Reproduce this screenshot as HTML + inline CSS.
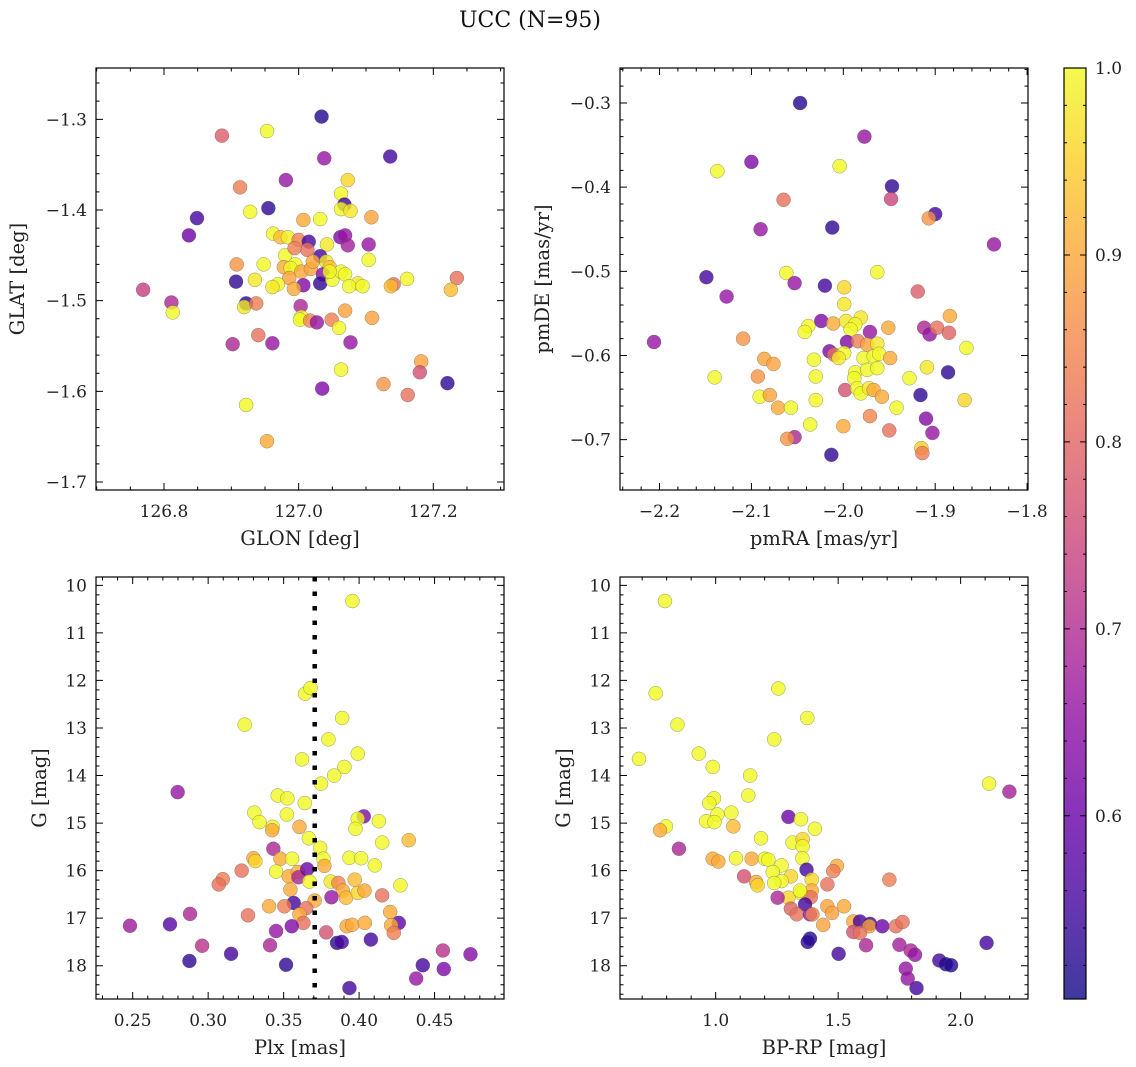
<!DOCTYPE html>
<html><head><meta charset="utf-8"><style>
body{margin:0;background:#fff}
svg{display:block;font-family:"DejaVu Serif","Liberation Serif",serif}
</style></head><body>
<svg id="fig" width="1136" height="1067" viewBox="0 0 1136 1067">
<text x="530" y="27" text-anchor="middle" font-size="22" fill="#111">UCC (N=95)</text>
</svg>
<script>
// ---- data ----
const p1Glon=[127.034,126.886,126.953,127.038,127.136,126.981,127.073,126.913,127.063,127.068,127.063,127.077,126.955,126.928,126.849,127.007,127.032,127.108,126.837,126.962,126.973,126.984,127.000,127.015,127.013,127.042,127.062,127.069,127.073,127.104,126.980,127.032,127.041,126.995,126.978,126.988,127.004,127.018,127.046,127.036,127.104,126.908,126.948,126.907,126.935,126.986,127.007,127.032,127.050,127.063,127.069,127.088,127.075,127.095,126.969,126.961,126.993,127.141,127.137,127.161,127.235,127.226,126.769,126.811,126.813,126.922,126.919,126.937,127.003,127.069,127.109,127.004,127.002,127.017,127.027,127.049,127.060,126.940,126.902,126.961,127.077,127.182,127.180,127.221,127.126,127.162,127.063,127.035,126.922,126.953,127.021,127.046,126.994];
const p1Glat=[-1.297,-1.318,-1.313,-1.343,-1.341,-1.367,-1.367,-1.375,-1.382,-1.394,-1.399,-1.401,-1.398,-1.402,-1.409,-1.411,-1.410,-1.408,-1.428,-1.426,-1.430,-1.430,-1.433,-1.435,-1.444,-1.438,-1.430,-1.428,-1.439,-1.438,-1.450,-1.451,-1.457,-1.460,-1.463,-1.464,-1.468,-1.465,-1.463,-1.471,-1.455,-1.460,-1.460,-1.479,-1.477,-1.475,-1.483,-1.481,-1.477,-1.468,-1.471,-1.481,-1.484,-1.484,-1.482,-1.485,-1.487,-1.482,-1.484,-1.476,-1.475,-1.488,-1.488,-1.502,-1.513,-1.503,-1.507,-1.503,-1.506,-1.511,-1.519,-1.518,-1.521,-1.522,-1.524,-1.521,-1.530,-1.538,-1.548,-1.547,-1.546,-1.567,-1.579,-1.591,-1.592,-1.604,-1.576,-1.597,-1.615,-1.655,-1.457,-1.468,-1.442];
const p1Prob=[.52,.77,.97,.65,.55,.65,.93,.82,.97,.55,.97,.95,.53,.97,.55,.88,.97,.87,.6,.97,.9,.96,.82,.55,.8,.95,.62,.65,.67,.65,.97,.55,.95,.97,.88,.97,.88,.87,.9,.63,.97,.85,.97,.53,.95,.87,.62,.53,.97,.97,.97,.95,.97,.97,.97,.95,.88,.8,.9,.97,.8,.9,.72,.68,.97,.53,.95,.82,.68,.87,.87,.97,.97,.83,.65,.82,.97,.8,.68,.65,.65,.87,.75,.53,.85,.8,.97,.62,.97,.88,.88,.97,.82];

const p2Pmra=[-2.047,-1.977,-2.100,-2.137,-2.004,-1.947,-1.948,-1.900,-1.907,-2.065,-2.090,-2.012,-1.836,-2.149,-2.062,-1.963,-2.053,-2.020,-1.999,-2.127,-1.919,-1.999,-2.206,-2.109,-2.038,-2.042,-2.024,-2.011,-1.997,-1.981,-1.987,-1.992,-1.971,-1.951,-1.884,-1.912,-1.906,-1.898,-1.885,-1.866,-1.996,-1.984,-1.974,-1.963,-2.015,-2.010,-1.999,-2.005,-1.978,-1.967,-1.961,-1.949,-2.032,-2.086,-2.076,-2.093,-2.140,-2.030,-1.987,-1.988,-1.974,-1.963,-1.928,-1.909,-1.886,-2.091,-2.080,-2.071,-2.057,-2.030,-1.998,-1.985,-1.981,-1.972,-1.967,-1.958,-1.942,-1.916,-1.868,-2.036,-1.971,-2.000,-1.950,-1.910,-1.903,-2.053,-2.061,-1.915,-1.914,-2.013];
const p2Pmde=[-0.300,-0.340,-0.370,-0.381,-0.375,-0.399,-0.414,-0.432,-0.437,-0.415,-0.450,-0.448,-0.468,-0.507,-0.502,-0.501,-0.514,-0.517,-0.519,-0.530,-0.524,-0.539,-0.584,-0.580,-0.565,-0.572,-0.559,-0.562,-0.559,-0.555,-0.563,-0.569,-0.572,-0.567,-0.553,-0.567,-0.575,-0.567,-0.573,-0.591,-0.584,-0.583,-0.587,-0.586,-0.595,-0.599,-0.597,-0.603,-0.603,-0.601,-0.598,-0.603,-0.605,-0.604,-0.610,-0.625,-0.626,-0.625,-0.620,-0.627,-0.617,-0.615,-0.627,-0.614,-0.620,-0.649,-0.647,-0.662,-0.662,-0.653,-0.641,-0.639,-0.645,-0.639,-0.641,-0.649,-0.662,-0.647,-0.653,-0.682,-0.672,-0.684,-0.689,-0.675,-0.692,-0.697,-0.699,-0.710,-0.716,-0.718];
const p2Prob=[.52,.65,.62,.97,.97,.53,.73,.55,.85,.8,.65,.53,.65,.55,.97,.97,.65,.55,.93,.65,.77,.95,.65,.85,.97,.97,.62,.88,.95,.95,.97,.97,.65,.88,.88,.68,.65,.8,.78,.97,.62,.82,.87,.95,.62,.8,.97,.95,.97,.97,.97,.88,.97,.87,.87,.85,.97,.97,.97,.97,.97,.97,.97,.95,.53,.97,.87,.88,.97,.97,.75,.97,.97,.95,.88,.88,.97,.53,.93,.97,.83,.88,.8,.63,.65,.68,.85,.92,.82,.53];

const p3Plx=[.3956,.3642,.3678,.3242,.3888,.3797,.3991,.3622,.3903,.3835,.3748,.2798,.3461,.3525,.3640,.3306,.3521,.3340,.3428,.3424,.3605,.3667,.4031,.3991,.3976,.4131,.4153,.4329,.3742,.3432,.3300,.3313,.3479,.3556,.3764,.3770,.3936,.4013,.4104,.3222,.3097,.3070,.3450,.3534,.3594,.3598,.3656,.3671,.3812,.3863,.3971,.4274,.3545,.3892,.3914,.3991,.4036,.4153,.3817,.3706,.3567,.3649,.3505,.3404,.3605,.3631,.3264,.2880,.4206,.4263,.4212,.4230,.3918,.3954,.4038,.3782,.3450,.3554,.2482,.2747,.2960,.3152,.3410,.3854,.3885,.4078,.2876,.3516,.3936,.4378,.4422,.4555,.4561,.4738];
const p3G=[10.33,12.28,12.16,12.93,12.79,13.24,13.54,13.66,13.82,14.00,14.17,14.35,14.42,14.48,14.58,14.78,14.82,14.98,15.08,15.15,15.08,15.32,14.86,14.91,15.12,14.96,15.41,15.36,15.52,15.54,15.74,15.80,15.75,15.75,15.75,15.90,15.73,15.74,15.89,16.00,16.18,16.29,16.02,16.12,16.03,16.14,15.97,16.23,16.23,16.26,16.19,16.31,16.40,16.42,16.57,16.47,16.42,16.52,16.56,16.63,16.68,16.79,16.75,16.75,16.92,17.10,16.94,16.91,16.87,17.10,17.15,17.31,17.17,17.14,17.10,17.30,17.27,17.17,17.16,17.13,17.58,17.75,17.57,17.52,17.50,17.45,17.90,17.98,18.47,18.27,17.99,17.68,18.07,17.76];
const p3Prob=[.97,.97,.97,.97,.97,.97,.97,.97,.97,.97,.97,.65,.97,.97,.97,.97,.97,.97,.97,.88,.88,.97,.62,.97,.97,.97,.97,.9,.97,.68,.88,.93,.88,.97,.97,.88,.97,.97,.97,.8,.82,.8,.97,.88,.88,.68,.6,.97,.95,.83,.9,.97,.88,.88,.9,.93,.88,.8,.65,.88,.55,.8,.82,.88,.88,.8,.8,.68,.88,.58,.88,.82,.88,.88,.88,.75,.65,.62,.66,.57,.7,.55,.68,.53,.55,.55,.53,.53,.55,.65,.55,.7,.62,.63];
const plxCut=[0.3706];

const p4Bprp=[.793,.755,1.256,1.374,.844,1.239,.931,.687,.988,1.141,2.116,2.199,1.133,.993,.974,1.064,1.007,1.297,1.348,.961,.995,.797,.773,1.072,1.405,1.185,.850,1.314,1.355,1.355,.988,1.011,1.083,1.147,1.201,1.215,1.354,1.269,1.371,1.495,1.480,1.709,1.116,1.233,1.307,1.392,1.456,1.165,1.171,1.269,1.239,1.392,1.347,1.297,1.253,1.388,1.365,1.307,1.331,1.385,1.395,1.456,1.475,1.524,1.439,1.562,1.589,1.630,1.627,1.562,1.589,1.680,1.736,1.763,1.614,1.750,1.796,1.814,1.385,1.376,1.502,1.913,1.940,1.961,2.106,1.776,1.784,1.820,1.344];
const p4G=[10.33,12.27,12.17,12.79,12.93,13.24,13.54,13.65,13.82,14.00,14.17,14.34,14.42,14.48,14.58,14.78,14.82,14.87,14.92,14.96,14.98,15.07,15.15,15.07,15.12,15.32,15.54,15.41,15.34,15.49,15.75,15.81,15.74,15.75,15.75,15.77,15.74,15.89,15.98,15.90,16.01,16.19,16.12,16.03,16.12,16.19,16.29,16.24,16.31,16.22,16.26,16.42,16.47,16.57,16.57,16.56,16.71,16.80,16.92,16.92,16.92,16.75,16.89,16.75,17.14,17.07,17.07,17.12,17.17,17.29,17.31,17.17,17.17,17.08,17.57,17.56,17.68,17.77,17.43,17.50,17.75,17.89,17.97,17.99,17.52,18.06,18.27,18.47,16.42];
const p4Prob=[.97,.97,.97,.97,.97,.97,.97,.97,.97,.97,.97,.67,.97,.97,.97,.97,.97,.6,.97,.97,.97,.97,.88,.9,.97,.97,.68,.97,.93,.97,.88,.88,.97,.88,.97,.97,.97,.97,.55,.88,.82,.82,.75,.97,.93,.93,.8,.88,.93,.97,.97,.88,.97,.93,.68,.8,.55,.78,.8,.65,.83,.87,.87,.88,.87,.88,.55,.55,.87,.75,.8,.6,.8,.8,.68,.67,.68,.65,.52,.53,.55,.55,.52,.52,.55,.65,.65,.55,.97];

const p1XTicks=[126.8,127.0,127.2], p1XLabels=["126.8","127.0","127.2"];
const p1YTicks=[-1.3,-1.4,-1.5,-1.6,-1.7], p1YLabels=["−1.3","−1.4","−1.5","−1.6","−1.7"];
const p2XTicks=[-2.2,-2.1,-2.0,-1.9,-1.8], p2XLabels=["−2.2","−2.1","−2.0","−1.9","−1.8"];
const p2YTicks=[-0.3,-0.4,-0.5,-0.6,-0.7], p2YLabels=["−0.3","−0.4","−0.5","−0.6","−0.7"];
const p3XTicks=[0.25,0.30,0.35,0.40,0.45], p3XLabels=["0.25","0.30","0.35","0.40","0.45"];
const gTicks=[10,11,12,13,14,15,16,17,18], gLabels=["10","11","12","13","14","15","16","17","18"];
const p4XTicks=[1.0,1.5,2.0], p4XLabels=["1.0","1.5","2.0"];
const cbTicks=[0.6,0.7,0.8,0.9,1.0], cbLabels=["0.6","0.7","0.8","0.9","1.0"];
const cbRange=[0.502,1.0];
const pointRange=[0.502,0.97];

// ---- helpers ----
const NS="http://www.w3.org/2000/svg";
const svg=document.getElementById('fig');
function mk(tag,attrs,parent){const e=document.createElementNS(NS,tag);for(const k in attrs)e.setAttribute(k,attrs[k]);(parent||svg).appendChild(e);return e;}
const stops=["#0d0887","#41049d","#6a00a8","#8f0da4","#b12a90","#cc4778","#e16462","#f2844b","#fca636","#fcce25","#f0f921"];
function hex(h){return [parseInt(h.substr(1,2),16),parseInt(h.substr(3,2),16),parseInt(h.substr(5,2),16)];}
function plasma(t){t=Math.max(0,Math.min(1,t));const f=t*10,i=Math.min(9,Math.floor(f)),r=f-i;const a=hex(stops[i]),b=hex(stops[i+1]);return "rgb("+a.map((v,k)=>Math.round(v+(b[k]-v)*r)).join(",")+")";}
function cnorm(v){return (v-pointRange[0])/(pointRange[1]-pointRange[0]);}
function lin(d0,d1,r0,r1){return v=>r0+(v-d0)/(d1-d0)*(r1-r0);}
const FS=17, AFS=19.5;

function panel(cfg){
  const g=mk('g',{});
  
  
  const X=lin(cfg.xr[0],cfg.xr[1],cfg.x,cfg.x+cfg.w);
  const Y=lin(cfg.yr[0],cfg.yr[1],cfg.y,cfg.y+cfg.h);
  const L=cfg.x,R=cfg.x+cfg.w,T=cfg.y,B=cfg.y+cfg.h;
  const pg=mk('g',{},g);
  
  
  for(let i=0;i<cfg.xs.length;i++){
    const c=mk('circle',{cx:X(cfg.xs[i]),cy:Y(cfg.ys[i]),r:7,fill:plasma(cnorm(cfg.cs[i]===undefined?0.9:cfg.cs[i])),'fill-opacity':0.8,stroke:'#555','stroke-opacity':0.6,'stroke-width':0.5},pg);
    
    
  }
  if(cfg.vline){
    const vl=mk('line',{x1:X(cfg.vline[0]),x2:X(cfg.vline[0]),y1:T,y2:B,stroke:'#000','stroke-width':4.5,'stroke-dasharray':'4.5 10'},g);
    
    
  }
  const fr=mk('rect',{x:L,y:T,width:cfg.w,height:cfg.h,fill:'none',stroke:'#000','stroke-width':1.2},g);
  
  
  let d='';
  const near=(v,arr,s)=>arr.some(a=>Math.abs(a-v)<s*0.3);
  cfg.xt.forEach(v=>{const px=X(v);if(px<L-0.5||px>R+0.5)return;d+=`M${px},${B}v-7M${px},${T}v7`;});
  cfg.yt.forEach(v=>{const py=Y(v);if(py<T-0.5||py>B+0.5)return;d+=`M${L},${py}h7M${R},${py}h-7`;});
  const xlo=Math.min(...cfg.xr),xhi=Math.max(...cfg.xr);
  for(let k=Math.ceil(xlo/cfg.xm);k<=Math.floor(xhi/cfg.xm);k++){const v=k*cfg.xm;if(near(v,cfg.xt,cfg.xm))continue;const px=X(v);d+=`M${px},${B}v-3.5M${px},${T}v3.5`;}
  const ylo=Math.min(...cfg.yr),yhi=Math.max(...cfg.yr);
  for(let k=Math.ceil(ylo/cfg.ym);k<=Math.floor(yhi/cfg.ym);k++){const v=k*cfg.ym;if(near(v,cfg.yt,cfg.ym))continue;const py=Y(v);d+=`M${L},${py}h3.5M${R},${py}h-3.5`;}
  mk('path',{d:d,stroke:'#000','stroke-width':1,fill:'none'},g);
  cfg.xt.forEach((v,i)=>{const t=mk('text',{x:X(v),y:B+27,'text-anchor':'middle','font-size':FS,fill:'#222'},g);t.textContent=cfg.xl[i];
    
    });
  cfg.yt.forEach((v,i)=>{const t=mk('text',{x:L-9,y:Y(v)+6,'text-anchor':'end','font-size':FS,fill:'#222'},g);t.textContent=cfg.yl[i];
    
    });
  const xt=mk('text',{x:L+cfg.w/2,y:B+55,'text-anchor':'middle','font-size':AFS,fill:'#222'},g);xt.textContent=cfg.xlab;
  
  
  const yx=cfg.ylx, yy=T+cfg.h/2;
  const yt=mk('text',{x:yx,y:yy,'text-anchor':'middle','font-size':AFS,fill:'#222',transform:`rotate(-90 ${yx} ${yy})`},g);yt.textContent=cfg.ylab;
  
  
}

panel({name:'glon-glat-panel',x:96,y:68,w:408,h:422,xr:[126.699,127.305],yr:[-1.2434,-1.7088],xs:p1Glon,ys:p1Glat,cs:p1Prob,xt:p1XTicks,xl:p1XLabels,yt:p1YTicks,yl:p1YLabels,xm:0.05,ym:0.02,xlab:'GLON [deg]',ylab:'GLAT [deg]',ylx:24});
panel({name:'pm-panel',x:620,y:68,w:408,h:422,xr:[-2.243,-1.799],yr:[-0.2584,-0.7598],xs:p2Pmra,ys:p2Pmde,cs:p2Prob,xt:p2XTicks,xl:p2XLabels,yt:p2YTicks,yl:p2YLabels,xm:0.02,ym:0.02,xlab:'pmRA [mas/yr]',ylab:'pmDE [mas/yr]',ylx:549});
panel({name:'plx-g-panel',x:96,y:577,w:408,h:422,xr:[0.2257,0.496],yr:[9.825,18.70],xs:p3Plx,ys:p3G,cs:p3Prob,xt:p3XTicks,xl:p3XLabels,yt:gTicks,yl:gLabels,xm:0.01,ym:0.2,xlab:'Plx [mas]',ylab:'G [mag]',ylx:46,vline:plxCut});
panel({name:'cmd-panel',x:620,y:577,w:408,h:422,xr:[0.6095,2.275],yr:[9.825,18.70],xs:p4Bprp,ys:p4G,cs:p4Prob,xt:p4XTicks,xl:p4XLabels,yt:gTicks,yl:gLabels,xm:0.1,ym:0.2,xlab:'BP-RP [mag]',ylab:'G [mag]',ylx:570});

// colorbar
(function(){
  const cx=1064,cy=68,cw=22,ch=931;
  const g=mk('g',{});
  
  
  const defs=mk('defs',{},g);
  const lg=mk('linearGradient',{id:'cbg',x1:0,y1:1,x2:0,y2:0},defs);
  for(let i=0;i<=20;i++){mk('stop',{offset:(i/20),'stop-color':plasma(i/20),'stop-opacity':0.8},lg);}
  mk('rect',{x:cx,y:cy,width:cw,height:ch,fill:'url(#cbg)'},g);
  mk('rect',{x:cx,y:cy,width:cw,height:ch,fill:'none',stroke:'#000','stroke-width':1.2},g);
  const Y=lin(cbRange[0],cbRange[1],cy+ch,cy);
  let d='';
  cbTicks.forEach(v=>{d+=`M${cx+cw},${Y(v)}h-6M${cx},${Y(v)}h6`;});
  for(let k=26;k<=49;k++){const v=k*0.02;if(cbTicks.some(a=>Math.abs(a-v)<0.005))continue;d+=`M${cx+cw},${Y(v)}h-3M${cx},${Y(v)}h3`;}
  mk('path',{d:d,stroke:'#000','stroke-width':1},g);
  cbTicks.forEach((v,i)=>{const t=mk('text',{x:cx+cw+9,y:Y(v)+6,'font-size':FS,fill:'#222'},g);t.textContent=cbLabels[i];
    
    });
})();
</script>
</body></html>
